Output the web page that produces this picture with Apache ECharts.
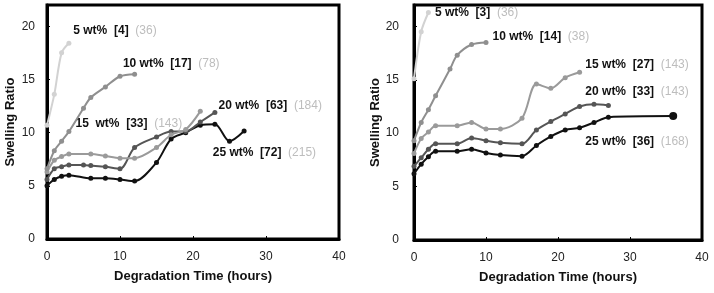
<!DOCTYPE html>
<html>
	<head>
		<meta charset="utf-8">
		<title>Swelling Ratio</title>
	</head>
	<body style="margin:0;">
		<!-- chart area -->
		<div id="container" style="width: 714px;height:293px;"></div>
	</body>
	<script src="https://cdn.jsdelivr.net/npm/echarts@6/dist/echarts.min.js"></script>
	<script type="text/javascript">
		'use strict'
		// left panel: [time (h), swelling ratio]
		var left5 = [[0, 10.7], [1, 13.6], [2, 17.5], [3, 18.4]];
		var left10 = [[0, 6.6], [1, 8.3], [2, 9.2], [3, 10.1], [5, 12.3], [6, 13.3], [8, 14.3], [10, 15.3], [12, 15.5]];
		var left15 = [[0, 6.3], [1, 7.4], [2, 7.75], [3, 8.0], [6, 8.0], [8, 7.8], [10, 7.6], [12, 7.6], [15, 8.6], [17, 9.8], [19, 10.3], [21, 12.0]];
		var left20 = [[0, 5.6], [1, 6.6], [2, 6.8], [3, 6.95], [5, 6.95], [6, 6.9], [8, 6.8], [10, 6.6], [12, 8.6], [15, 9.6], [17, 10.1], [19, 10.1], [21, 11.0], [23, 11.9]];
		var left25 = [[0, 5.0], [1, 5.6], [2, 5.9], [3, 6.0], [6, 5.7], [8, 5.7], [10, 5.6], [12, 5.45], [15, 7.2], [17, 9.4], [19, 10.0], [21, 10.7], [23, 10.8], [25, 9.2], [27, 10.15]];
		// right panel
		var right5 = [[0, 15.1], [1, 19.5], [2, 21.3]];
		var right10 = [[0, 9.3], [1, 11.0], [2, 12.2], [3, 13.5], [5, 16.0], [6, 17.3], [8, 18.3], [10, 18.5]];
		var right15 = [[0, 8.1], [1, 9.5], [2, 10.1], [3, 10.7], [6, 10.7], [8, 11.0], [10, 10.4], [12, 10.4], [15, 11.4], [17, 14.6], [19, 14.2], [21, 15.2], [23, 15.7]];
		var right20 = [[0, 6.9], [1, 7.7], [2, 8.5], [3, 9.0], [6, 9.0], [8, 9.55], [10, 9.3], [12, 9.1], [15, 9.0], [17, 10.3], [19, 11.1], [21, 11.8], [23, 12.5], [25, 12.7], [27, 12.6]];
		var right25 = [[0, 6.2], [1, 7.1], [2, 7.8], [3, 8.3], [6, 8.3], [8, 8.5], [10, 8.15], [12, 7.95], [15, 7.85], [17, 8.85], [19, 9.7], [21, 10.3], [23, 10.5], [25, 11.0], [27, 11.5], [36, 11.6]];

		// annotation texts: name, [bracket], (paren)
		var seriesNames = ['5 wt%', '10 wt%', '15 wt%', '20 wt%', '25 wt%'];
		var leftBracket = ['[4]', '[17]', '[33]', '[63]', '[72]'];
		var leftParen = ['(36)', '(78)', '(143)', '(184)', '(215)'];
		var rightBracket = ['[3]', '[14]', '[27]', '[33]', '[36]'];
		var rightParen = ['(36)', '(38)', '(143)', '(143)', '(168)'];
		// where the annotations sit, in data units
		var leftLabelAt = [[3.6, 19.6], [10.4, 16.5], [3.9, 10.8], [23.5, 12.5], [22.7, 8.1]];
		var rightLabelAt = [[2.9, 21.3], [10.9, 19.0], [23.8, 16.4], [23.8, 13.9], [23.8, 9.2]];

		var colors = ['#d2d2d2', '#8f8f8f', '#9a9a9a', '#555555', '#111111'];
		var font = 'Liberation Sans, Arial, sans-serif';

		var myCharts = echarts.init(document.getElementById('container'));

		function makeSeries(data, idx, panel, bracket, paren, at) {
			var name = seriesNames[idx];
			if (panel === 0 && idx === 2) name = '15  wt%';
			return {
				type: 'line',
				xAxisIndex: panel,
				yAxisIndex: panel,
				smooth: 0.3,
				symbol: 'circle',
				symbolSize: 5,
				lineStyle: { color: colors[idx], width: 2 },
				itemStyle: { color: colors[idx] },
				data: data,
				z: 10 - idx,
				markPoint: {
					symbol: 'circle',
					symbolSize: 0,
					data: [{ coord: at[idx] }],
					label: {
						show: true,
						position: 'right',
						distance: 0,
						formatter: '{b|' + name + '  ' + bracket[idx] + '}  {g|' + paren[idx] + '}',
						rich: {
							b: { fontFamily: font, fontSize: 12, fontWeight: 'bold', color: '#111' },
							g: { fontFamily: font, fontSize: 12, color: '#bdbdbd' }
						}
					}
				}
			};
		}

		function xAxisOf(gridIndex) {
			return {
				type: 'value', gridIndex: gridIndex, min: 0, max: 40, interval: 10,
				name: 'Degradation Time (hours)', nameLocation: 'middle', nameGap: 31,
				nameTextStyle: { fontFamily: font, fontSize: 13, fontWeight: 'bold', color: '#111' },
				axisLine: { lineStyle: { color: '#000', width: 3 } },
				axisTick: { inside: true, length: 3, lineStyle: { color: '#000' } },
				axisLabel: { fontFamily: font, fontSize: 12, color: '#222', margin: 12 },
				splitLine: { show: false }
			};
		}
		function yAxisOf(gridIndex, gap, margin) {
			return {
				type: 'value', gridIndex: gridIndex, min: 0, max: 22, interval: 5,
				name: 'Swelling Ratio', nameLocation: 'middle', nameGap: gap,
				nameTextStyle: { fontFamily: font, fontSize: 13, fontWeight: 'bold', color: '#111' },
				axisLine: { lineStyle: { color: '#000', width: 3 } },
				axisTick: { inside: true, length: 3, lineStyle: { color: '#000' } },
				axisLabel: {
					fontFamily: font, fontSize: 12, color: '#222', margin: margin,
					formatter: function (v) { return v % 5 === 0 ? v : ''; }
				},
				splitLine: { show: false }
			};
		}

		var series = [];
		[left5, left10, left15, left20, left25].forEach(function (d, i) {
			series.push(makeSeries(d, i, 0, leftBracket, leftParen, leftLabelAt));
		});
		[right5, right10, right15, right20, right25].forEach(function (d, i) {
			series.push(makeSeries(d, i, 1, rightBracket, rightParen, rightLabelAt));
		});
		// bigger end marker on the long 25 wt% curve
		series[9].data = right25.map(function (p, i) {
			return i === right25.length - 1 ? { value: p, symbolSize: 8 } : p;
		});

		var option = {
			animation: false,
			backgroundColor: '#fff',
			grid: [
				{ left: 47, right: 375, top: 5, bottom: 54, show: true, borderColor: '#000', borderWidth: 3 },
				{ left: 414, right: 12, top: 5, bottom: 53, show: true, borderColor: '#000', borderWidth: 3 }
			],
			xAxis: [xAxisOf(0), xAxisOf(1)],
			yAxis: [yAxisOf(0, 30, 12), yAxisOf(1, 31, 15)],
			series: series
		};
		myCharts.setOption(option);
	</script>
</html>
